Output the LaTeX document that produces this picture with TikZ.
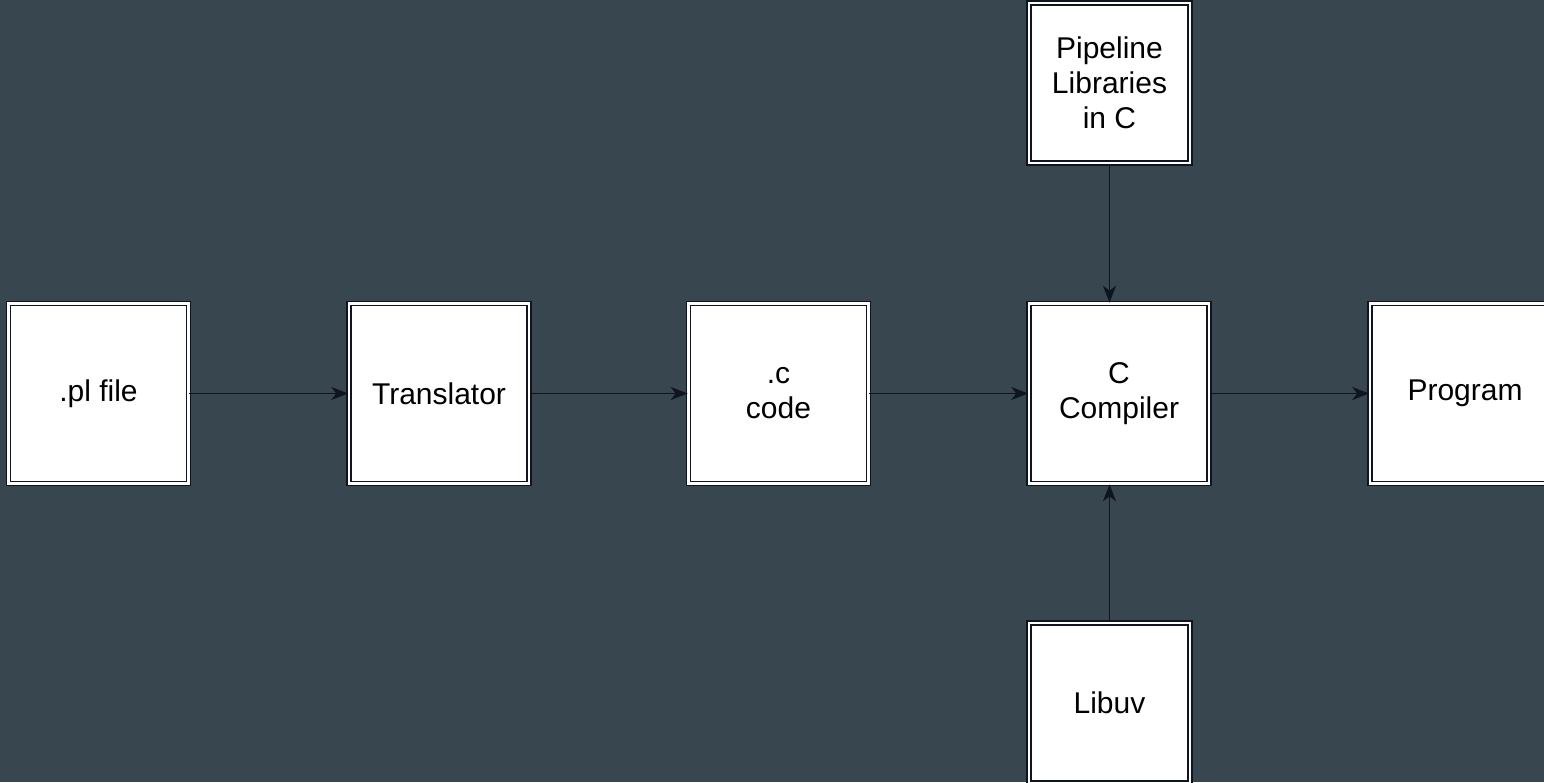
\documentclass[tikz,border=0pt]{standalone}
\usepackage{fontspec}
\setmainfont{Liberation Sans}
\usetikzlibrary{arrows.meta}
\definecolor{bgc}{HTML}{37464F}
\definecolor{linec}{HTML}{0E1420}
\tikzset{
  box/.style={draw=linec, line width=1.6pt, double=white, double distance=2.2pt,
    fill=white, minimum width=#1, inner sep=0pt, align=center,
    font=\fontsize{30}{35}\selectfont, text=black},
  box/.default={180pt},
  conn/.style={draw=linec, line width=1.8pt, -{Stealth[length=17pt,width=13pt,inset=5pt]}}
}
\begin{document}
\begin{tikzpicture}[x=1pt,y=-1pt]
\fill[bgc] (0,0) rectangle (1544,782);
\useasboundingbox (0,0) rectangle (1544,782);
\node[box, minimum height=180pt] (pl) at (98.5,393.5) {.pl file};
\node[box, minimum height=180pt] (tr) at (439,393.5) {Translator};
\node[box, minimum height=180pt] (cc) at (778.5,393.5) {.c\\code};
\node[box, minimum height=180pt] (comp) at (1119,393.5) {C\\Compiler};
\node[box=190pt, minimum height=180pt] (prog) at (1465,393.5) {Program};
\node[box=161pt, minimum height=160pt] (pipe) at (1109.5,83) {Pipeline\\Libraries\\in C};
\node[box=161pt, minimum height=160pt] (uv) at (1109.5,703) {Libuv};
\draw[conn] (pl) -- (tr);
\draw[conn] (tr) -- (cc);
\draw[conn] (cc) -- (comp);
\draw[conn] (comp) -- (prog);
\draw[conn] (pipe.south) -- (pipe.south |- comp.north);
\draw[conn] (uv.north) -- (uv.north |- comp.south);
\end{tikzpicture}
\end{document}
